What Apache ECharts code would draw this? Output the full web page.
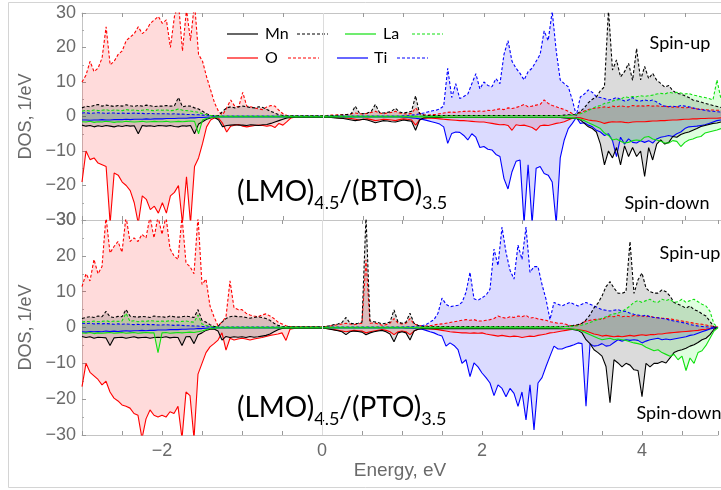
<!DOCTYPE html>
<html>
<head>
<meta charset="utf-8">
<script src="https://cdn.jsdelivr.net/npm/echarts@6/dist/echarts.min.js"></script>
<style>
  html, body { margin: 0; padding: 0; background: #fff; }
  #main { width: 721px; height: 490px; }
</style>
</head>
<body>
<div id="main"></div>
<script>
// energy grid, -3.00 ... 4.95 eV, 0.05 eV step (one row below = 1 eV)
var energy = [];
for (var i = 0; i < 160; i++) energy.push(+(-3 + 0.05 * i).toFixed(2));

var yTicks = [-30, -20, -10, 0, 10, 20, 30];
var xTickLabels = [-2, 0, 2, 4];

// ---------- (LMO)4.5/(BTO)3.5 ----------
var btoOUp = [
  10, 12, 16, 13, 14, 17, 26, 15, 16, 18, 19, 22, 23, 24, 26, 24, 25, 27, 28, 29,
  27, 28, 20, 29, 33, 19, 31, 22, 33, 18, 16, 11.5, 7.7, 3.9, 1.4, 0.5, 2.5, 4.8, 3, 2.8,
  7, 3, 2.8, 2.5, 2.2, 2, 2.8, 3.2, 3, 1.8, 0.8, 0.3, 0.2, 0.2, 0.2, 0.2, 0.3, 0.3, 0.3, 0.3,
  0.3, 0.3, 0.4, 0.4, 0.5, 0.5, 0.6, 0.8, 1.0, 0.8, 0.7, 0.9, 1.2, 1.5, 1.0, 0.8, 1.0, 1.2, 1.5, 1.0,
  0.8, 0.7, 0.9, 2.5, 1.0, 0.5, 0.4, 0.5, 0.6, 0.8, 1.0, 1.2, 1.3, 1.2, 1.4, 1.5, 1.5, 1.6, 1.4, 1.6,
  1.5, 1.8, 1.7, 2.0, 2.2, 2.0, 2.5, 2.3, 2.6, 3.0, 3.5, 2.8, 3.0, 3.3, 3.5, 4.8, 3.8, 3.2, 2.8, 2.4,
  2.0, 1.5, 0.9, 0.3, 1.2, 1.6, 2.0, 2.3, 2.4, 2.6, 2.8, 2.6, 3.0, 2.8, 3.1, 2.9, 2.8, 3.2, 3.0, 3.1,
  3.0, 3.2, 3.0, 3.1, 2.9, 3.0, 2.8, 2.7, 2.8, 2.6, 2.5, 2.6, 2.4, 2.2, 2.1, 2.0, 1.9, 1.9, 1.8, 1.8
];
var btoODn = [
  -19, -10, -12.5, -12, -13.5, -14, -14.5, -31, -16.4, -17, -19, -20, -21.5, -25, -31, -23, -24, -27, -26, -28,
  -25, -28, -23, -22, -20, -31, -17.5, -31, -14.5, -12, -7.8, -3, -1, -0.4, -0.5, -2, -4.5, -2.8, -2.5, -2.3,
  -2.8, -3.0, -2.8, -2.6, -2.5, -2.6, -2.8, -2.6, -3.2, -2.0, -2.5, -1.5, -0.4, -0.2, -0.2, -0.2, -0.2, -0.2, -0.2, -0.2,
  -0.2, -0.2, -0.3, -0.3, -0.4, -0.4, -0.5, -0.6, -0.8, -1.0, -0.8, -0.7, -0.9, -1.2, -1.0, -0.8, -0.9, -1.0, -1.2, -0.9,
  -0.7, -0.8, -1.0, -2.5, -1.0, -0.5, -0.4, -0.5, -0.6, -0.7, -0.8, -0.9, -1.0, -1.1, -1.2, -1.2, -1.3, -1.4, -1.5, -1.6,
  -1.6, -1.8, -2.0, -2.2, -2.4, -2.3, -2.6, -4.0, -2.4, -2.6, -2.5, -2.8, -3.2, -4.0, -2.7, -2.5, -2.6, -2.3, -2.0, -1.8,
  -1.5, -1.0, -0.5, -0.3, -0.4, -0.7, -1.0, -1.2, -1.3, -1.6, -2.0, -1.7, -1.5, -1.6, -1.5, -1.7, -1.8, -1.6, -1.5, -1.5,
  -1.5, -1.4, -1.3, -1.3, -1.2, -1.2, -1.1, -1.0, -1.0, -0.9, -0.8, -0.8, -0.7, -0.7, -0.6, -0.6, -0.5, -0.5, -0.5, -0.4
];
var btoTiUp = [
  1.0, 1.1, 0.9, 1.0, 1.1, 1.0, 0.9, 1.0, 1.0, 0.9, 1.0, 0.9, 0.9, 1.0, 0.9, 0.9, 0.8, 0.9, 0.8, 0.8,
  0.8, 0.8, 0.7, 0.8, 0.7, 0.7, 0.6, 0.6, 0.5, 0.5, 0.4, 0.3, 0.2, 0.2, 0.1, 0.1, 0.1, 0.1, 0.1, 0.1,
  0.1, 0.1, 0.1, 0.1, 0.1, 0.1, 0.1, 0.1, 0.1, 0.1, 0.1, 0.1, 0.1, 0.1, 0.1, 0.1, 0.1, 0.1, 0.1, 0.1,
  0.1, 0.1, 0.1, 0.1, 0.1, 0.1, 0.1, 0.1, 0.1, 0.1, 0.15, 0.15, 0.15, 0.15, 0.15, 0.15, 0.15, 0.15, 0.15, 0.15,
  0.2, 0.3, 0.4, 0.5, 0.8, 1.0, 1.3, 1.6, 1.8, 2.2, 3.0, 14, 5.5, 9.5, 5.2, 5.8, 6.5, 9.5, 12.4, 8,
  10, 9, 8.6, 11, 9.5, 18, 22, 16, 14, 12.5, 10.6, 13, 14, 16, 18, 24.8, 22, 30.5, 19, 10.6,
  9.5, 8.6, 4.8, 0.3, 5.7, 6.5, 7.7, 7.0, 5.7, 5.5, 5.2, 4.8, 5.0, 5.5, 5.0, 4.5, 4.8, 5.5, 4.6, 4.5,
  4.8, 4.5, 4.8, 4.2, 3.5, 3.0, 2.9, 3.0, 2.8, 3.2, 3.0, 2.8, 2.5, 2.2, 2.0, 1.8, 1.6, 1.5, 1.4, 1.3
];
var btoTiDn = [
  -1.0, -1.0, -1.1, -1.0, -1.0, -0.9, -1.0, -1.0, -0.9, -0.9, -0.9, -0.8, -0.9, -0.8, -0.8, -0.8, -0.7, -0.8, -0.7, -0.7,
  -0.7, -0.6, -0.6, -0.6, -0.5, -0.5, -0.5, -0.4, -0.4, -0.3, -0.3, -0.2, -0.2, -0.1, -0.1, -0.1, -0.1, -0.1, -0.1, -0.1,
  -0.1, -0.1, -0.1, -0.1, -0.1, -0.1, -0.1, -0.1, -0.1, -0.1, -0.1, -0.1, -0.1, -0.1, -0.1, -0.1, -0.1, -0.1, -0.1, -0.1,
  -0.1, -0.1, -0.1, -0.1, -0.1, -0.1, -0.1, -0.1, -0.1, -0.1, -0.1, -0.1, -0.1, -0.1, -0.1, -0.1, -0.1, -0.1, -0.1, -0.1,
  -0.2, -0.3, -0.4, -0.5, -0.7, -0.9, -1.2, -1.5, -1.8, -2.2, -3.0, -7.8, -4.9, -4.5, -4.6, -5.5, -6.8, -5.0, -6.0, -9.0,
  -8.7, -9.5, -9.7, -11, -11.6, -18, -21, -16, -13, -12.6, -31, -14, -31, -15, -14.5, -16.5, -17, -19, -31, -12,
  -6.8, -3.5, -2.0, -0.3, -2.0, -1.8, -2.5, -3.0, -4.0, -4.5, -5.5, -5.0, -7, -11.6, -6.0, -8, -6.5, -7.5, -7.7, -7.0,
  -7.5, -7.0, -7.7, -6.5, -6.0, -5.8, -5.5, -5.8, -5.0, -4.5, -3.5, -3.0, -2.9, -2.8, -2.6, -2.4, -2.0, -1.6, -1.2, -1.0
];
var btoMnUp = [
  2.5, 3.0, 2.8, 3.2, 3.5, 3.0, 3.3, 3.1, 2.9, 3.2, 3.0, 3.4, 3.1, 2.9, 3.2, 3.0, 3.3, 3.1, 2.9, 3.0,
  3.0, 3.2, 3.0, 3.1, 5.5, 2.8, 3.1, 3.0, 2.5, 2.2, 1.5, 0.8, 0.3, 0.2, 0.3, 1.5, 2.5, 2.8, 2.5, 2.8,
  3.0, 2.8, 2.6, 2.5, 2.8, 2.6, 2.0, 1.5, 1.0, 0.5, 0.3, 0.2, 0.2, 0.2, 0.2, 0.2, 0.2, 0.2, 0.2, 0.2,
  0.2, 0.2, 0.3, 0.3, 0.4, 0.5, 0.6, 0.8, 3.0, 1.0, 0.8, 1.0, 1.5, 3.5, 1.2, 1.0, 1.2, 1.5, 2.4, 1.3,
  1.0, 1.2, 1.5, 6.0, 0.8, 0.4, 0.3, 0.3, 0.3, 0.3, 0.3, 0.3, 0.3, 0.3, 0.3, 0.3, 0.3, 0.3, 0.3, 0.3,
  0.3, 0.3, 0.3, 0.3, 0.3, 0.3, 0.3, 0.3, 0.3, 0.3, 0.3, 0.3, 0.3, 0.3, 0.3, 0.3, 0.3, 0.3, 0.3, 0.3,
  0.4, 0.5, 0.5, 0.6, 1.5, 2.5, 4.0, 5.0, 5.7, 7.5, 8.6, 31, 13.5, 16.4, 11.5, 13, 15.4, 10.5, 19.7, 10.6,
  14.5, 11, 12.5, 10.5, 9.6, 8.5, 9.0, 7.5, 6.7, 6.5, 6.0, 5.5, 4.8, 4.5, 4.2, 3.8, 3.5, 3.2, 2.9, 2.6
];
var btoMnDn = [
  -2.5, -2.8, -2.6, -3.0, -2.7, -2.9, -2.6, -2.8, -3.0, -2.7, -2.9, -2.6, -2.8, -2.7, -5.0, -2.6, -2.8, -2.7, -2.9, -2.6,
  -2.7, -2.8, -2.6, -2.9, -3.0, -2.7, -2.8, -2.6, -5.0, -2.2, -1.5, -0.8, -0.4, -0.3, -1.0, -3.0, -2.6, -2.5, -2.4, -2.5,
  -2.5, -2.6, -2.4, -2.5, -2.6, -2.4, -2.3, -2.0, -1.6, -1.2, -0.8, -0.4, -0.3, -0.2, -0.2, -0.2, -0.2, -0.2, -0.2, -0.2,
  -0.2, -0.2, -0.3, -0.4, -0.5, -0.6, -0.8, -1.0, -1.2, -1.0, -0.8, -1.0, -1.4, -1.8, -1.5, -1.2, -1.3, -1.5, -1.6, -1.3,
  -1.0, -1.2, -1.4, -4.0, -1.0, -0.4, -0.3, -0.3, -0.3, -0.3, -0.3, -0.3, -0.3, -0.3, -0.3, -0.3, -0.3, -0.3, -0.3, -0.3,
  -0.3, -0.3, -0.3, -0.3, -0.3, -0.3, -0.3, -0.3, -0.3, -0.3, -0.3, -0.3, -0.3, -0.3, -0.3, -0.3, -0.3, -0.3, -0.3, -0.3,
  -0.4, -0.5, -0.5, -0.6, -1.0, -2.0, -3.0, -3.5, -4.5, -8, -14, -10, -12, -9, -14, -8.5, -11.6, -9, -11.6, -10,
  -17.4, -9, -12.6, -8, -6.8, -8, -7.5, -5.8, -6, -5.2, -4.8, -4.5, -4, -3.5, -2.9, -2.6, -2.3, -2.0, -1.9, -1.6
];
var btoLaUp = [
  1.5, 1.8, 1.6, 1.9, 1.7, 1.8, 2.0, 1.7, 1.9, 1.8, 1.7, 2.0, 1.8, 1.9, 1.7, 1.8, 2.0, 1.8, 1.7, 1.9,
  1.8, 1.9, 1.7, 1.8, 2.2, 1.8, 1.7, 1.6, 1.4, 1.2, 0.8, 0.5, 0.3, 0.2, 0.1, 0.1, 0.1, 0.1, 0.1, 0.1,
  0.1, 0.1, 0.1, 0.1, 0.1, 0.1, 0.1, 0.1, 0.1, 0.1, 0.1, 0.1, 0.1, 0.1, 0.1, 0.1, 0.1, 0.1, 0.1, 0.1,
  0.1, 0.1, 0.1, 0.1, 0.1, 0.1, 0.1, 0.1, 0.1, 0.1, 0.1, 0.1, 0.1, 0.1, 0.1, 0.1, 0.1, 0.1, 0.1, 0.1,
  0.1, 0.1, 0.1, 0.1, 0.1, 0.1, 0.1, 0.1, 0.1, 0.1, 0.2, 0.2, 0.2, 0.2, 0.2, 0.2, 0.2, 0.2, 0.2, 0.2,
  0.2, 0.2, 0.2, 0.2, 0.2, 0.2, 0.2, 0.2, 0.2, 0.2, 0.2, 0.2, 0.2, 0.2, 0.2, 0.2, 0.2, 0.2, 0.2, 0.2,
  0.2, 0.3, 0.4, 0.5, 0.8, 1.2, 1.8, 2.3, 2.9, 3.2, 3.8, 4.0, 4.5, 4.8, 5.0, 5.7, 5.5, 5.8, 5.7, 6.0,
  5.8, 6.0, 6.2, 6.5, 6.7, 6.5, 7.0, 6.8, 7.0, 6.8, 6.5, 6.7, 6.2, 6.0, 5.7, 5.5, 5.2, 4.8, 10.6, 5.0
];
var btoLaDn = [
  -1.5, -1.6, -1.4, -1.7, -1.5, -1.6, -1.4, -1.5, -1.7, -1.5, -1.6, -1.4, -1.5, -1.6, -1.5, -1.4, -1.6, -1.5, -1.4, -1.5,
  -1.5, -1.4, -1.6, -1.5, -1.4, -1.5, -1.4, -1.3, -1.4, -5.0, -1.0, -0.6, -0.3, -0.2, -0.1, -0.1, -0.1, -0.1, -0.1, -0.1,
  -0.1, -0.1, -0.1, -0.1, -0.1, -0.1, -0.1, -0.1, -0.1, -0.1, -0.1, -0.1, -0.1, -0.1, -0.1, -0.1, -0.1, -0.1, -0.1, -0.1,
  -0.1, -0.1, -0.1, -0.1, -0.1, -0.1, -0.1, -0.1, -0.1, -0.1, -0.1, -0.1, -0.1, -0.1, -0.1, -0.1, -0.1, -0.1, -0.1, -0.1,
  -0.1, -0.1, -0.1, -0.1, -0.1, -0.1, -0.1, -0.1, -0.1, -0.1, -0.2, -0.2, -0.2, -0.2, -0.2, -0.2, -0.2, -0.2, -0.2, -0.2,
  -0.2, -0.2, -0.2, -0.2, -0.2, -0.2, -0.2, -0.2, -0.2, -0.2, -0.2, -0.2, -0.2, -0.2, -0.2, -0.2, -0.2, -0.2, -0.2, -0.2,
  -0.2, -0.3, -0.4, -0.5, -0.8, -1.2, -1.8, -2.3, -2.9, -3.5, -4.8, -5.5, -6.8, -6.5, -7.2, -7.7, -7.5, -7.0, -6.8, -7.0,
  -6.0, -5.8, -6.5, -6.8, -7.2, -7.7, -7.7, -7.0, -7.2, -8.7, -7.5, -6.8, -6.5, -6.0, -5.8, -4.8, -4.5, -4.2, -3.9, -3.5
];

// ---------- (LMO)4.5/(PTO)3.5 ----------
var ptoOUp = [
  11.4, 15, 13, 19, 15, 17, 31, 20.8, 22.6, 24, 21, 31, 24, 25, 24, 26, 25, 31, 25, 31,
  26, 31, 22, 20, 19, 31, 18, 17, 15, 31, 12, 13.5, 6, 3, 0.5, 1.5, 3, 13, 5.5, 5,
  5, 4, 3.5, 3.2, 3, 3.5, 3.8, 3.2, 2.5, 1.5, 1, 0.5, 0.3, 0.2, 0.2, 0.2, 0.2, 0.2, 0.2, 0.2,
  0.2, 0.3, 0.4, 0.6, 0.8, 1.0, 1.2, 1.0, 0.8, 1.0, 1.2, 18.9, 1.2, 1.3, 1.0, 0.6, 0.8, 1.2, 2.5, 1.2,
  1.0, 1.2, 2.5, 1.0, 0.6, 0.4, 0.4, 0.5, 0.7, 0.9, 1.0, 1.2, 1.4, 1.6, 1.8, 2.0, 2.2, 2.0, 2.2, 1.8,
  1.8, 2.0, 2.2, 2.5, 3.2, 2.8, 2.6, 3.0, 2.8, 3.2, 3.0, 3.4, 2.6, 2.8, 2.4, 2.2, 2.0, 1.6, 1.4, 1.2,
  1.2, 0.9, 0.6, 0.5, 0.6, 1.2, 1.8, 2.0, 2.2, 2.4, 2.2, 2.8, 3.2, 3.0, 3.4, 3.0, 3.2, 3.0, 3.4, 3.2,
  3.2, 3.0, 3.2, 2.8, 2.7, 2.6, 2.5, 2.4, 2.2, 2.0, 1.8, 1.6, 1.4, 1.2, 1.0, 0.9, 0.7, 0.5, 0.2, 0.1
];
var ptoODn = [
  -16.5, -10, -12.5, -13.5, -14.5, -16, -15, -18, -19.7, -20.5, -21.6, -22, -22.5, -24, -24.5, -31, -25.5, -23, -24.5, -25,
  -24.5, -25, -23.5, -24, -22, -31, -18, -19, -31, -13, -10, -7, -5.4, -4.5, -3.5, -1.5, -6.3, -3, -3.5, -3.2,
  -3, -3.2, -3.5, -3.2, -3, -2.8, -2.5, -2.2, -2, -1.8, -1.5, -3.6, -0.5, -0.3, -0.2, -0.2, -0.2, -0.2, -0.2, -0.2,
  -0.2, -0.3, -0.4, -0.6, -0.8, -1.0, -1.2, -1.0, -0.8, -0.9, -1.0, -1.5, -1.2, -1.0, -0.8, -0.6, -0.8, -1.2, -2.0, -1.2,
  -1.0, -1.2, -2.0, -1.0, -0.5, -0.3, -0.3, -0.4, -0.5, -0.6, -0.8, -1.0, -1.2, -1.3, -1.4, -1.5, -1.5, -1.6, -1.5, -1.6,
  -1.5, -1.8, -2.0, -2.2, -2.4, -2.2, -2.4, -2.6, -2.4, -2.5, -2.8, -2.6, -2.4, -2.5, -2.2, -2.0, -1.8, -1.5, -1.4, -1.2,
  -1.0, -0.8, -0.6, -0.5, -0.6, -0.8, -1.0, -1.4, -1.8, -2.0, -2.4, -2.2, -2.4, -2.6, -2.4, -2.6, -2.4, -2.2, -2.4, -2.2,
  -2.0, -2.2, -2.0, -2.0, -1.8, -1.8, -1.6, -1.5, -1.4, -1.3, -1.2, -1.1, -1.0, -0.9, -0.8, -0.6, -0.5, -0.3, -0.1, 0
];
var ptoTiUp = [
  1.2, 1.1, 1.2, 1.0, 1.1, 1.0, 1.1, 1.0, 0.9, 1.0, 0.9, 1.0, 0.9, 0.8, 0.9, 0.8, 0.9, 0.8, 0.8, 0.7,
  0.7, 0.8, 0.7, 0.6, 0.7, 0.6, 0.5, 0.5, 0.4, 0.4, 0.3, 0.2, 0.2, 0.1, 0.1, 0.1, 0.1, 0.1, 0.1, 0.1,
  0.1, 0.1, 0.1, 0.1, 0.1, 0.1, 0.1, 0.1, 0.1, 0.1, 0.1, 0.1, 0.1, 0.1, 0.1, 0.1, 0.1, 0.1, 0.1, 0.1,
  0.1, 0.1, 0.1, 0.1, 0.1, 0.1, 0.1, 0.1, 0.1, 0.1, 0.1, 0.1, 0.1, 0.1, 0.1, 0.1, 0.1, 0.1, 0.1, 0.1,
  0.1, 0.2, 0.2, 0.3, 0.4, 0.5, 0.8, 1.5, 2.2, 4, 8.2, 6.5, 5.8, 6, 6.2, 7, 9.8, 15.4, 8, 7.6,
  8.3, 9, 10.7, 21.9, 17.3, 28, 21, 16, 13.5, 23, 19, 28, 15.4, 17, 17, 12, 7.9, 2.2, 7, 6.5,
  6, 6.5, 7, 6.5, 6, 6.5, 7, 6.5, 6, 5.5, 5, 4.8, 4.6, 4.8, 5, 4.6, 4.5, 4.0, 3.7, 3.5,
  3.2, 3.5, 3.0, 2.8, 2.7, 2.5, 2.4, 2.0, 1.8, 1.6, 1.4, 1.2, 0.8, 0.6, 0.4, 0.3, 0.2, 0.1, 0.05, 0
];
var ptoTiDn = [
  -1.2, -1.3, -1.1, -1.2, -1.1, -1.2, -1.0, -1.1, -1.0, -1.1, -1.0, -0.9, -1.0, -0.9, -0.9, -0.8, -0.9, -0.8, -0.8, -0.7,
  -0.7, -0.7, -0.6, -0.6, -0.6, -0.5, -0.5, -0.4, -0.4, -0.3, -0.3, -0.2, -0.2, -0.1, -0.1, -0.1, -0.1, -0.1, -0.1, -0.1,
  -0.1, -0.1, -0.1, -0.1, -0.1, -0.1, -0.1, -0.1, -0.1, -0.1, -0.1, -0.1, -0.1, -0.1, -0.1, -0.1, -0.1, -0.1, -0.1, -0.1,
  -0.1, -0.1, -0.1, -0.1, -0.1, -0.1, -0.1, -0.1, -0.1, -0.1, -0.1, -0.1, -0.1, -0.1, -0.1, -0.1, -0.1, -0.1, -0.1, -0.1,
  -0.1, -0.2, -0.2, -0.3, -0.4, -0.5, -0.8, -1.2, -1.5, -2, -2.4, -5.2, -4.3, -5, -6.2, -10, -9, -13.7, -9.9, -11,
  -12.7, -14, -15.5, -19, -16, -17, -19.3, -17, -18.4, -22, -18, -25.8, -16, -28.6, -15.5, -14, -10.9, -8, -5.2, -6,
  -6, -5.5, -5.2, -4.8, -4.3, -4.5, -22, -4.6, -5.2, -5.0, -4.5, -5.2, -5.0, -4.2, -3.4, -3.8, -3.4, -3.6, -3.4, -3.6,
  -4.3, -3.8, -3.4, -3.2, -3.0, -3.4, -3.2, -3.4, -3.2, -3.0, -2.8, -2.6, -2.2, -2.0, -1.6, -1.2, -0.8, -0.4, -0.1, 0
];
var ptoMnUp = [
  2.5, 2.8, 3.0, 2.8, 3.2, 3.0, 4.5, 3.0, 2.8, 3.1, 3.0, 5.0, 3.2, 3.0, 2.9, 3.1, 3.0, 2.8, 3.2, 3.0,
  3.0, 2.8, 3.2, 3.0, 2.9, 3.0, 3.2, 3.0, 2.8, 5.0, 2.0, 1.5, 0.8, 0.3, 0.3, 1.5, 2.5, 3.0, 3.2, 3.0,
  3.0, 2.8, 2.6, 2.8, 3.0, 2.8, 2.5, 2.0, 1.2, 0.6, 0.3, 0.2, 0.2, 0.2, 0.2, 0.2, 0.2, 0.2, 0.2, 0.2,
  0.2, 0.3, 0.5, 0.8, 1.0, 1.4, 2.8, 1.2, 1.0, 1.2, 1.5, 31, 1.8, 1.6, 1.4, 1.0, 1.2, 1.5, 4.9, 1.5,
  1.2, 1.5, 4.0, 1.2, 0.6, 0.3, 0.3, 0.3, 0.3, 0.3, 0.3, 0.3, 0.3, 0.3, 0.3, 0.3, 0.3, 0.3, 0.3, 0.3,
  0.3, 0.3, 0.3, 0.3, 0.3, 0.3, 0.3, 0.3, 0.3, 0.3, 0.3, 0.3, 0.3, 0.3, 0.3, 0.3, 0.3, 0.3, 0.3, 0.3,
  0.3, 0.3, 0.4, 0.6, 0.8, 1.2, 2.1, 3.5, 5.5, 6.8, 8.8, 11.4, 12.8, 11, 9.6, 9.5, 10, 24, 9.5, 13.3,
  15.2, 11, 10, 9.6, 9.6, 10.5, 10, 8.8, 7, 6.5, 6, 5.4, 6, 5.0, 4.6, 3.8, 3.2, 1.7, 0.2, 0
];
var ptoMnDn = [
  -2.5, -2.8, -2.6, -3.0, -2.7, -2.8, -2.9, -5.0, -2.9, -2.8, -2.7, -3.0, -2.8, -2.6, -2.9, -2.8, -2.7, -3.0, -2.8, -2.7,
  -2.8, -2.6, -2.9, -2.7, -2.8, -5.0, -2.6, -2.5, -4.5, -2.0, -1.5, -0.8, -0.5, -0.4, -1.0, -3.5, -2.5, -2.8, -2.6, -2.7,
  -2.6, -2.8, -2.5, -2.7, -2.6, -2.4, -2.2, -1.8, -1.2, -0.6, -0.3, -0.2, -0.2, -0.2, -0.2, -0.2, -0.2, -0.2, -0.2, -0.2,
  -0.2, -0.3, -0.5, -0.7, -0.9, -1.2, -2.0, -1.2, -1.0, -1.1, -1.3, -2.0, -1.5, -1.2, -1.0, -0.8, -1.2, -1.8, -4.0, -1.5,
  -1.2, -1.5, -3.5, -1.0, -0.5, -0.3, -0.3, -0.3, -0.3, -0.3, -0.3, -0.3, -0.3, -0.3, -0.3, -0.3, -0.3, -0.3, -0.3, -0.3,
  -0.3, -0.3, -0.3, -0.3, -0.3, -0.3, -0.3, -0.3, -0.3, -0.3, -0.3, -0.3, -0.3, -0.3, -0.3, -0.3, -0.3, -0.3, -0.3, -0.3,
  -0.3, -0.3, -0.4, -0.6, -0.8, -1.5, -3.4, -4.5, -6.2, -7, -8, -10.9, -21, -9, -9.9, -11, -10, -10.5, -11.8, -12,
  -19.3, -10, -11, -10, -10, -9.5, -9.9, -8.5, -7, -6.5, -6.2, -5.8, -5.2, -4.8, -4.2, -3.4, -3, -2, -0.5, 0
];
var ptoLaUp = [
  1.5, 1.7, 1.6, 1.8, 1.6, 1.7, 1.9, 1.6, 1.8, 1.7, 1.8, 4.0, 1.7, 1.9, 1.6, 1.8, 1.7, 1.9, 1.8, 1.7,
  1.8, 1.7, 1.9, 1.8, 1.6, 1.7, 1.8, 1.6, 1.5, 3.5, 1.0, 0.6, 0.3, 0.2, 0.1, 0.1, 0.1, 0.1, 0.1, 0.1,
  0.1, 0.1, 0.1, 0.1, 0.1, 0.1, 0.1, 0.1, 0.1, 0.1, 0.1, 0.1, 0.1, 0.1, 0.1, 0.1, 0.1, 0.1, 0.1, 0.1,
  0.1, 0.1, 0.1, 0.1, 0.1, 0.1, 0.1, 0.1, 0.1, 0.1, 0.1, 0.1, 0.1, 0.1, 0.1, 0.1, 0.1, 0.1, 0.1, 0.1,
  0.1, 0.1, 0.1, 0.1, 0.1, 0.1, 0.1, 0.1, 0.1, 0.1, 0.1, 0.1, 0.1, 0.1, 0.1, 0.1, 0.1, 0.1, 0.1, 0.1,
  0.2, 0.2, 0.2, 0.2, 0.2, 0.2, 0.2, 0.2, 0.2, 0.2, 0.2, 0.2, 0.2, 0.2, 0.2, 0.2, 0.2, 0.2, 0.2, 0.2,
  0.2, 0.3, 0.3, 0.4, 0.5, 0.7, 1.0, 1.4, 1.8, 2.2, 2.6, 3.0, 3.5, 3.8, 4.0, 4.5, 5.2, 6.0, 7.0, 7.5,
  7.0, 7.5, 7.9, 7.2, 7.0, 7.9, 7.5, 7.9, 7.0, 7.2, 7.9, 7.0, 7.5, 7.9, 7.2, 6.5, 6.0, 4.5, 1.0, 0
];
var ptoLaDn = [
  -1.5, -1.6, -1.4, -1.7, -1.5, -1.6, -1.5, -1.4, -1.6, -1.5, -1.4, -1.6, -1.5, -1.4, -1.6, -1.5, -1.4, -1.5, -1.5, -7.0,
  -1.5, -1.4, -1.6, -1.5, -1.4, -1.5, -1.4, -1.3, -1.4, -1.2, -1.0, -0.6, -0.3, -0.2, -0.1, -0.1, -0.1, -0.1, -0.1, -0.1,
  -0.1, -0.1, -0.1, -0.1, -0.1, -0.1, -0.1, -0.1, -0.1, -0.1, -0.1, -0.1, -0.1, -0.1, -0.1, -0.1, -0.1, -0.1, -0.1, -0.1,
  -0.1, -0.1, -0.1, -0.1, -0.1, -0.1, -0.1, -0.1, -0.1, -0.1, -0.1, -0.1, -0.1, -0.1, -0.1, -0.1, -0.1, -0.1, -0.1, -0.1,
  -0.1, -0.1, -0.1, -0.1, -0.1, -0.1, -0.1, -0.1, -0.1, -0.1, -0.1, -0.1, -0.1, -0.1, -0.1, -0.1, -0.1, -0.1, -0.1, -0.1,
  -0.1, -0.1, -0.1, -0.1, -0.1, -0.1, -0.1, -0.1, -0.1, -0.1, -0.1, -0.1, -0.1, -0.1, -0.1, -0.1, -0.1, -0.1, -0.1, -0.1,
  -0.2, -0.3, -0.4, -0.5, -0.7, -1.0, -1.5, -2.0, -2.5, -3.0, -3.4, -3.2, -3.0, -3.4, -3.2, -3.4, -3.6, -4.0, -4.3, -4.5,
  -4.8, -5.5, -6.0, -6.5, -6.2, -7.0, -7.5, -8.0, -7.5, -9, -8.0, -12, -8.5, -10, -7, -6.5, -5, -3, -1.0, 0
];

var COLORS = { Mn: '#000000', La: '#10e010', O: '#ff0000', Ti: '#0000ff' };
var FILLS = { Mn: 'rgba(0,0,0,0.2)', La: 'rgba(0,255,0,0.18)', O: 'rgba(255,0,0,0.2)', Ti: 'rgba(0,0,255,0.2)' };

function pairs(vals) {
  return energy.map(function (e, i) { return [e, vals[i]]; });
}
function minus(v) { return v < 0 ? '\u2212' + Math.abs(v) : String(v); }

function dos(el, vals, up, g) {
  return {
    type: 'line', name: el + (up ? ' up' : ' down'),
    xAxisIndex: g * 2, yAxisIndex: g,
    data: pairs(vals), symbol: 'none', showSymbol: false,
    lineStyle: { color: COLORS[el], width: 1.1, type: up ? [3, 2] : 'solid' },
    areaStyle: { color: FILLS[el] },
    animation: false, silent: true
  };
}

var grey = '#c4c4c4';
var labelGrey = '#6a6a6a';

function xAxes(g, showLabels) {
  var common = {
    type: 'value', gridIndex: g, min: -3, max: 4.95, interval: 0.5,
    splitLine: { show: false },
    axisLine: { onZero: false, lineStyle: { color: grey } },
    axisTick: { inside: true, length: 4, lineStyle: { color: '#999' } }
  };
  var bottom = Object.assign({}, common, {
    position: 'bottom',
    axisLabel: {
      show: showLabels, color: labelGrey, fontSize: 18, fontFamily: 'Liberation Sans', margin: 7,
      formatter: function (v) { return xTickLabels.indexOf(v) >= 0 ? minus(v) : ''; }
    }
  });
  if (showLabels) {
    bottom.name = 'Energy, eV';
    bottom.nameLocation = 'middle';
    bottom.nameGap = 25;
    bottom.nameTextStyle = { color: labelGrey, fontSize: 19, fontFamily: 'Liberation Sans' };
  }
  var top = Object.assign({}, common, { position: 'top', axisLabel: { show: false } });
  return [bottom, top];
}

function yAxis(g) {
  return {
    type: 'value', gridIndex: g, min: -30, max: 30, interval: 10,
    name: 'DOS, 1/eV', nameLocation: 'middle', nameGap: 44, nameRotate: 90,
    nameTextStyle: { color: labelGrey, fontSize: 18, fontFamily: 'Liberation Sans' },
    splitLine: { show: false },
    axisLine: { show: true, onZero: false, lineStyle: { color: grey } },
    axisTick: { inside: true, length: 4, lineStyle: { color: '#999' } },
    minorTick: { show: true, splitNumber: 2, length: 2, lineStyle: { color: '#aaa' } },
    axisLabel: {
      color: labelGrey, fontSize: 18, fontFamily: 'Liberation Sans', margin: 6,
      formatter: function (v) { return yTicks.indexOf(v) >= 0 ? minus(v) : ''; }
    }
  };
}

var series = [];
[[btoOUp, btoODn, btoTiUp, btoTiDn, btoMnUp, btoMnDn, btoLaUp, btoLaDn],
 [ptoOUp, ptoODn, ptoTiUp, ptoTiDn, ptoMnUp, ptoMnDn, ptoLaUp, ptoLaDn]].forEach(function (set, g) {
  var els = ['O', 'Ti', 'Mn', 'La'];
  els.forEach(function (el, k) {
    series.push(dos(el, set[k * 2], true, g));
    series.push(dos(el, set[k * 2 + 1], false, g));
  });
  // light vertical grid line at E = 0
  series[series.length - 8].markLine = {
    silent: true, symbol: 'none', animation: false, label: { show: false },
    lineStyle: { color: '#dcdcdc', type: 'solid', width: 1 },
    data: [{ xAxis: 0 }]
  };
});

// legend drawn as in the reference (solid = one spin, dashed = other)
var legendItems = [
  { el: 'Mn', x: 227, y: 34, tx: 265, dx: 297 },
  { el: 'La', x: 345, y: 34, tx: 383, dx: 412 },
  { el: 'O', x: 227, y: 58, tx: 265, dx: 288 },
  { el: 'Ti', x: 337, y: 58, tx: 374, dx: 397 }
];
var graphics = [{
  type: 'rect', silent: true,
  shape: { x: 8.5, y: 2.5, width: 740, height: 485 },
  style: { fill: 'none', stroke: '#d4d4d4', lineWidth: 1 }
}];
legendItems.forEach(function (it) {
  graphics.push({ type: 'line', silent: true, shape: { x1: it.x, y1: it.y, x2: it.x + 31, y2: it.y },
    style: { stroke: COLORS[it.el], lineWidth: 1.2 } });
  graphics.push({ type: 'text', silent: true, style: { x: it.tx, y: it.y, text: it.el,
    font: '16px Lato', fill: '#000', verticalAlign: 'middle' } });
  graphics.push({ type: 'line', silent: true, shape: { x1: it.dx, y1: it.y, x2: it.dx + 31, y2: it.y },
    style: { stroke: COLORS[it.el], lineWidth: 1.2, lineDash: [3, 2] } });
});

function label(x, y, text) {
  return { type: 'text', silent: true, style: { x: x, y: y, text: text, font: '18px Lato',
    fill: '#000', align: 'center', verticalAlign: 'middle' } };
}
graphics.push(label(680, 43, 'Spin-up'));
graphics.push(label(667, 203, 'Spin-down'));
graphics.push(label(690, 253, 'Spin-up'));
graphics.push(label(679, 413, 'Spin-down'));

function formula(y, b) {
  return {
    type: 'text', silent: true,
    style: {
      x: 237, y: y, align: 'left', verticalAlign: 'middle', fill: '#000',
      text: '{m|(LMO)}{s|4.5}{m|/(' + b + ')}{s|3.5}',
      rich: {
        m: { fontSize: 28, fontFamily: 'Lato', lineHeight: 40, verticalAlign: 'middle' },
        s: { fontSize: 18, fontFamily: 'Lato', lineHeight: 14, verticalAlign: 'bottom' }
      }
    }
  };
}
graphics.push(formula(192, 'BTO'));
graphics.push(formula(408, 'PTO'));

var option = {
  animation: false,
  backgroundColor: '#ffffff',
  grid: [
    { left: 82, right: 0, top: 13, height: 207 },
    { left: 82, right: 0, top: 220, height: 215 }
  ],
  xAxis: xAxes(0, false).concat(xAxes(1, true)),
  yAxis: [yAxis(0), yAxis(1)],
  series: series,
  graphic: graphics
};

var chart = echarts.init(document.getElementById('main'));
chart.setOption(option);
</script>
</body>
</html>
